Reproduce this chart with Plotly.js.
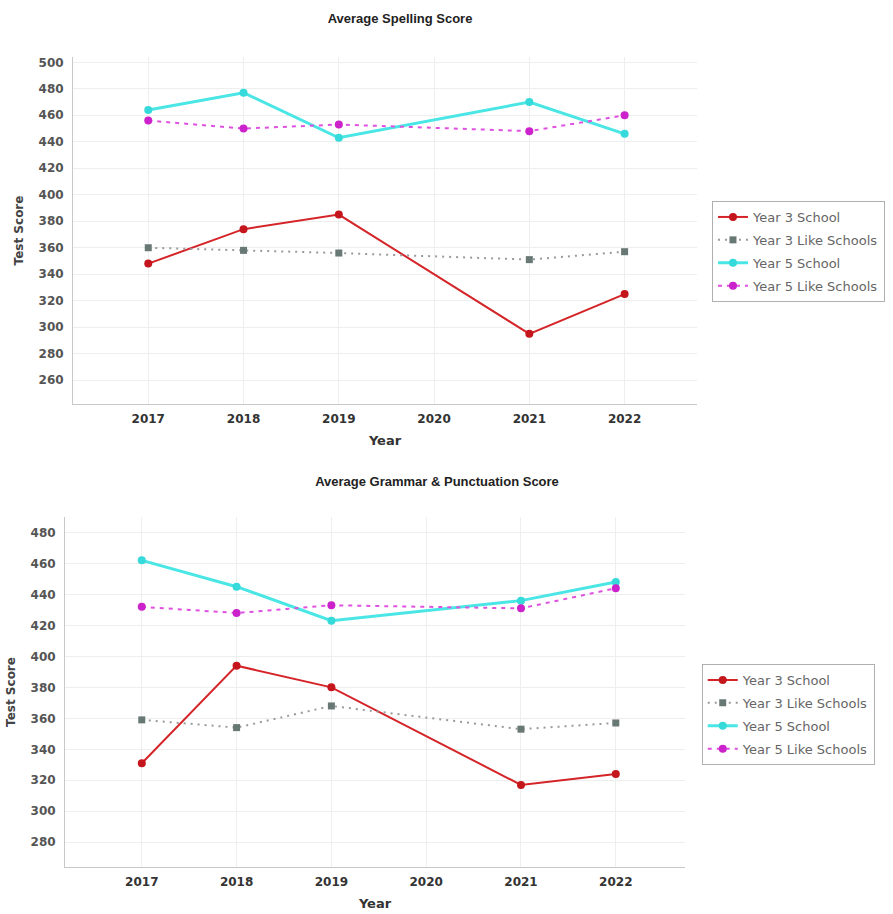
<!DOCTYPE html>
<html>
<head>
<meta charset="utf-8">
<script src="https://cdn.plot.ly/plotly-3.0.1.min.js"></script>
<style>
  html, body { margin: 0; padding: 0; background: #fff; }
  #c1, #c2 { width: 893px; height: 457px; }
</style>
</head>
<body>
<div id="c1"></div>
<div id="c2"></div>
<script>
const years = [2017, 2018, 2019, 2021, 2022];
const yearTicks = [2017, 2018, 2019, 2020, 2021, 2022];
const seriesNames = ["Year 3 School", "Year 3 Like Schools", "Year 5 School", "Year 5 Like Schools"];

// Average Spelling Score
const spellY3School = [348, 374, 385, 295, 325];
const spellY3Like   = [360, 358, 356, 351, 357];
const spellY5School = [464, 477, 443, 470, 446];
const spellY5Like   = [456, 450, 453, 448, 460];
const spellTicks = [260, 280, 300, 320, 340, 360, 380, 400, 420, 440, 460, 480, 500];

// Average Grammar & Punctuation Score
const gramY3School = [331, 394, 380, 317, 324];
const gramY3Like   = [359, 354, 368, 353, 357];
const gramY5School = [462, 445, 423, 436, 448];
const gramY5Like   = [432, 428, 433, 431, 444];
const gramTicks = [280, 300, 320, 340, 360, 380, 400, 420, 440, 460, 480];

const styles = [
  {line: {color: '#d42428', width: 2, dash: 'solid'}, marker: {color: '#c4161c', size: 8, symbol: 'circle'}},
  {line: {color: '#9a9a9a', width: 2, dash: '2px,5px'}, marker: {color: '#687874', size: 7, symbol: 'square'}},
  {line: {color: '#4ae6e6', width: 3, dash: 'solid'}, marker: {color: '#36dada', size: 8, symbol: 'circle'}},
  {line: {color: '#e050e0', width: 2, dash: '4px,5px'}, marker: {color: '#cc22cc', size: 8, symbol: 'circle'}}
];

function makeTraces(arrs) {
  return arrs.map((vals, i) => ({
    x: years, y: vals, name: seriesNames[i], type: 'scatter', mode: 'lines+markers',
    legendgroup: 'g' + i,
    line: styles[i].line, marker: styles[i].marker
  }));
}

const FONT = 'DejaVu Sans, sans-serif';
const TFONT = 'Liberation Sans, Arial, sans-serif';

function makeLayout(opt) {
  return {
    width: 893, height: 457,
    paper_bgcolor: '#fff', plot_bgcolor: '#fff',
    margin: Object.assign({autoexpand: false}, opt.margin),
    font: {family: FONT, size: 12, color: '#444'},
    showlegend: true,
    title: {text: opt.title, x: opt.titleX, xref: 'container', xanchor: 'center',
            y: opt.titleY, yref: 'container', yanchor: 'middle',
            font: {family: TFONT, size: 13, color: '#222', weight: 'bold'}},
    xaxis: {
      range: opt.xRange, tickvals: yearTicks, ticktext: yearTicks.map(String),
      showgrid: true, gridcolor: '#eeeeee', zeroline: false,
      showline: true, linecolor: '#c8c8c8', linewidth: 1,
      ticks: 'outside', ticklen: 4, tickcolor: 'rgba(0,0,0,0)',
      tickfont: {family: FONT, size: 12, color: '#333', weight: 'bold'},
      title: {text: 'Year', standoff: 10, font: {family: FONT, size: 13, color: '#333', weight: 'bold'}},
      automargin: false, fixedrange: true
    },
    yaxis: {
      range: opt.yRange, tickvals: opt.yTicks,
      showgrid: true, gridcolor: '#eeeeee', zeroline: false,
      showline: true, linecolor: '#c8c8c8', linewidth: 1,
      ticks: 'outside', ticklen: 6, tickcolor: 'rgba(0,0,0,0)',
      tickfont: {family: FONT, size: 12, color: '#555', weight: 'bold'},
      title: {text: 'Test Score', standoff: 12, font: {family: FONT, size: 12, color: '#444', weight: 'bold'}},
      automargin: false, fixedrange: true
    },
    legend: {
      x: opt.legX, y: opt.legY, xanchor: 'left', yanchor: 'top',
      bordercolor: '#b0b0b0', borderwidth: 1, bgcolor: '#fff',
      font: {family: FONT, size: 13, color: '#666'},
      tracegroupgap: 3, itemwidth: 30
    }
  };
}

Plotly.newPlot('c1',
  makeTraces([spellY3School, spellY3Like, spellY5School, spellY5Like]),
  makeLayout({
    title: 'Average Spelling Score', titleX: 400/893, titleY: 1 - 18/457,
    margin: {l: 73, r: 196, t: 57, b: 53},
    xRange: [2016.21, 2022.76], yRange: [242, 504], yTicks: spellTicks,
    legX: 1.024, legY: 0.585
  }),
  {displayModeBar: false, staticPlot: true});

Plotly.newPlot('c2',
  makeTraces([gramY3School, gramY3Like, gramY5School, gramY5Like]),
  makeLayout({
    title: 'Average Grammar & Punctuation Score', titleX: 437/893, titleY: 1 - 24/457,
    margin: {l: 65, r: 208, t: 60, b: 47},
    xRange: [2016.19, 2022.73], yRange: [264, 490], yTicks: gramTicks,
    legX: 1.027, legY: 0.58
  }),
  {displayModeBar: false, staticPlot: true});
</script>
</body>
</html>
